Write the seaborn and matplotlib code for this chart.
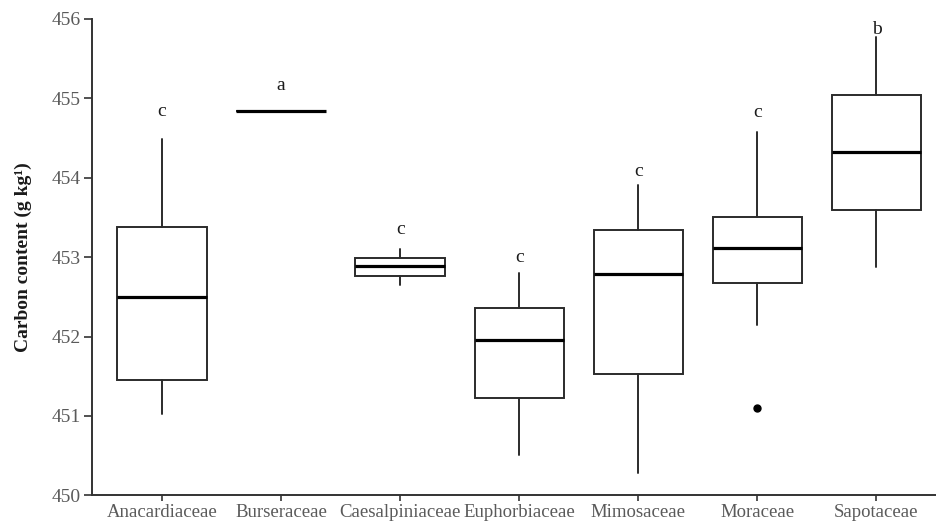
import matplotlib
matplotlib.use("Agg")
import matplotlib.pyplot as plt
import seaborn as sns

sns.set_theme(style="ticks")
plt.rcParams["font.family"] = ["Liberation Serif", "DejaVu Serif"]

# ── datos ───────────────────────────────────────────────────────────────────
families = ["Anacardiaceae", "Burseraceae", "Caesalpiniaceae", "Euphorbiaceae",
            "Mimosaceae", "Moraceae", "Sapotaceae"]
whisk_lo = [451.02, 454.84, 452.65, 450.51, 450.28, 452.15, 452.88]
q1       = [451.45, 454.84, 452.76, 451.22, 451.53, 452.67, 453.59]
median   = [452.50, 454.84, 452.89, 451.96, 452.79, 453.12, 454.32]
q3       = [453.38, 454.84, 452.99, 452.36, 453.34, 453.50, 455.04]
whisk_hi = [454.49, 454.84, 453.10, 452.80, 453.91, 454.57, 455.77]
outliers = [[], [], [], [], [], [451.10], []]
letters  = ["c", "a", "c", "c", "c", "c", "b"]
letter_y = [454.84, 455.16, 453.35, 452.99, 454.08, 454.82, 455.87]

stats = []
for i, fam in enumerate(families):
    stats.append({"label": fam, "whislo": whisk_lo[i], "q1": q1[i], "med": median[i],
                  "q3": q3[i], "whishi": whisk_hi[i], "fliers": outliers[i]})

fig = plt.figure(figsize=(9.36, 5.24), dpi=100)
ax = fig.add_axes([0.098, 0.0548, 0.902, 0.909])

box_col = "#2b2b2b"
ax.bxp(stats, positions=range(len(families)), widths=0.75, showcaps=False,
       patch_artist=True,
       boxprops=dict(facecolor="white", edgecolor=box_col, linewidth=1.4),
       whiskerprops=dict(color=box_col, linewidth=1.4),
       medianprops=dict(color="black", linewidth=2.3),
       flierprops=dict(marker="o", markerfacecolor="black", markeredgecolor="black",
                       markersize=5))

for i, (lt, ly) in enumerate(zip(letters, letter_y)):
    ax.text(i, ly, lt, ha="center", va="center", fontsize=14, color="#1a1a1a")

ax.set_ylim(450, 456)
ax.set_xlim(-0.59, 6.5)
ax.set_yticks([450, 451, 452, 453, 454, 455, 456])
ax.set_xticks(range(len(families)))
ax.set_xticklabels(families)
ax.set_ylabel("Carbon content (g kg¹)", fontsize=14, fontweight="bold",
              color="#1a1a1a", labelpad=14)
ax.tick_params(axis="y", labelsize=14, length=6, width=1.2, pad=2,
               colors="#333333", labelcolor="#5a5a5a")
ax.tick_params(axis="x", labelsize=13.5, length=4, width=1.2, pad=2.5,
               colors="#333333", labelcolor="#5a5a5a")
for s in ["left", "bottom"]:
    ax.spines[s].set_linewidth(1.4)
    ax.spines[s].set_color("#333333")
sns.despine(ax=ax)

fig.savefig("out.png", dpi=100)
